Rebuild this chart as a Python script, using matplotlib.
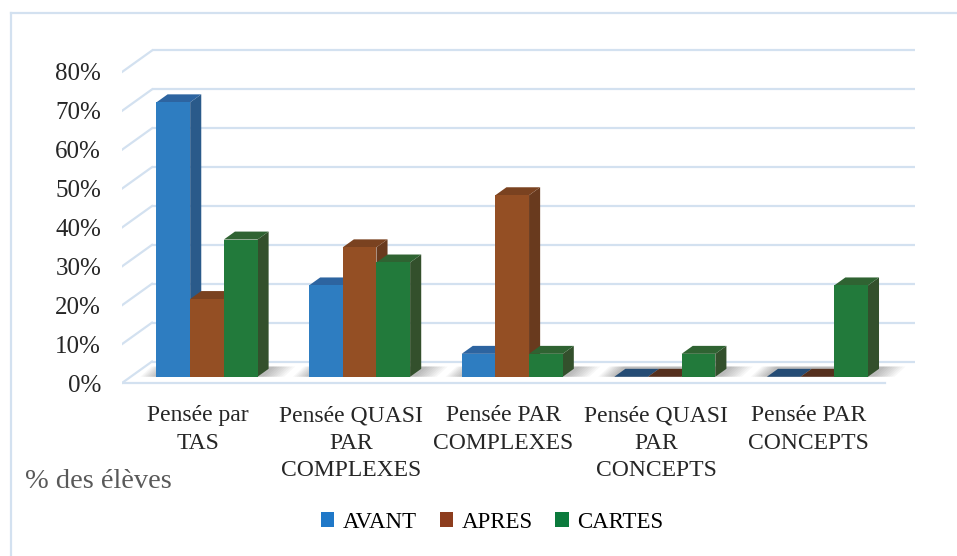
import numpy as np
import matplotlib.pyplot as plt
from matplotlib.patches import Polygon, Patch
from matplotlib.lines import Line2D

# Pourcentages d'élèves par type de pensée
categories = ['Pensée par\nTAS', 'Pensée QUASI\nPAR\nCOMPLEXES', 'Pensée PAR\nCOMPLEXES',
              'Pensée QUASI\nPAR\nCONCEPTS', 'Pensée PAR\nCONCEPTS']
series = ['AVANT', 'APRES', 'CARTES']
avant = [70.6, 23.5, 5.9, 0.0, 0.0]
apres = [20.0, 33.3, 46.7, 0.0, 0.0]
cartes = [35.3, 29.4, 5.9, 5.9, 23.5]
yticks = [0, 10, 20, 30, 40, 50, 60, 70, 80]

values = [avant, apres, cartes]

# couleurs: face avant, côté, dessus
faces = [('#2e7dc1', '#2a5a8a', '#2d64a0'),
         ('#944f24', '#693a1e', '#7a4220'),
         ('#227a3b', '#33502c', '#2f6332')]
flat = ['#254c75', '#55301e', '#2f6332']
legend_cols = ['#1f78c8', '#8d3d1e', '#0b7a3c']
grid_col = '#d3e1f0'

W, H = 957, 556
fig = plt.figure(figsize=(W / 100, H / 100), dpi=100)

# axe en unités "catégorie" / "pourcent", plan avant du graphique
px_x = 152.6          # pixels par catégorie
px_y = 3.8875         # pixels par pourcent
x0_px, y0_px = 122, 383
xlim = (0, 5.3)
ylim = (-1.5, 88)
ax = fig.add_axes([x0_px / W, (H - (y0_px - ylim[0] * px_y)) / H,
                   (xlim[1] - xlim[0]) * px_x / W, (ylim[1] - ylim[0]) * px_y / H])
ax.set_xlim(*xlim)
ax.set_ylim(*ylim)

# profondeur du graphique (décalage du mur du fond)
DX = 30 / px_x
DY = 21.5 / px_y

# quadrillage sur le mur du fond + diagonales à gauche
for v in yticks:
    ax.plot([DX, 5 + DX], [v + DY, v + DY], color=grid_col, lw=1.6, zorder=1,
            solid_capstyle='butt')
    ax.plot([0, DX], [v, v + DY], color=grid_col, lw=1.6, zorder=1)
# bord avant du sol
ax.plot([0, 5], [0, 0], color=grid_col, lw=1.6, zorder=1)

# barres 3D
w = 0.2207
a, b = 0.29, 0.66     # profondeur avant / arrière des barres
for i in range(len(categories)):
    # ombre douce sur le sol, plus marquée à droite du groupe
    gx0 = i + 0.5 - 1.5 * w + a * DX
    gx1 = gx0 + 3 * w
    for k in range(9):
        ext = 0.012 * k
        pts = [(gx0 - 0.01 - ext, a * DY), (gx1 + 0.04 + ext * 1.4, a * DY),
               (gx1 + 0.04 + ext * 1.4 + (b - a) * DX, b * DY + 0.6),
               (gx0 - 0.01 - ext + (b - a) * DX, b * DY + 0.6)]
        ax.add_patch(Polygon(pts, closed=True, facecolor='#000000', edgecolor='none',
                             alpha=0.03, zorder=2))
    for j in range(len(series)):
        v = values[j][i]
        x0 = i + 0.5 + (j - 1.5) * w + a * DX
        ya = a * DY
        ddx, ddy = (b - a) * DX, (b - a) * DY
        if v <= 0:
            top = [(x0, ya), (x0 + w, ya), (x0 + w + ddx, ya + ddy), (x0 + ddx, ya + ddy)]
            ax.add_patch(Polygon(top, closed=True, facecolor=flat[j], edgecolor='none', zorder=3))
            continue
        fc, sc, tc = faces[j]
        front = [(x0, ya), (x0 + w, ya), (x0 + w, ya + v), (x0, ya + v)]
        side = [(x0 + w, ya), (x0 + w + ddx, ya + ddy), (x0 + w + ddx, ya + ddy + v), (x0 + w, ya + v)]
        top = [(x0, ya + v), (x0 + w, ya + v), (x0 + w + ddx, ya + ddy + v), (x0 + ddx, ya + ddy + v)]
        ax.add_patch(Polygon(side, closed=True, facecolor=sc, edgecolor='none', zorder=3))
        ax.add_patch(Polygon(top, closed=True, facecolor=tc, edgecolor='none', zorder=3))
        ax.add_patch(Polygon(front, closed=True, facecolor=fc, edgecolor='none', zorder=3))

# axes et étiquettes
for s in ax.spines.values():
    s.set_visible(False)
ax.set_yticks(yticks)
ax.set_yticklabels([f'{t}%' for t in yticks], fontsize=18, family='Liberation Serif',
                   color='#262626')
ax.set_xticks(np.arange(len(categories)) + 0.5)
ax.set_xticklabels(categories, fontsize=17, family='Liberation Serif', color='#262626',
                   linespacing=1.38)
ax.tick_params(axis='both', length=0)
ax.tick_params(axis='y', pad=15)
ax.tick_params(axis='x', pad=12)

fig.text(25 / W, 1 - 481 / H, '% des élèves', fontsize=20.5, family='Liberation Serif',
         color='#595959', va='center', ha='left')

# légende
handles = [Patch(facecolor=c, edgecolor='none') for c in legend_cols]
fig.legend(handles, series, loc='center', bbox_to_anchor=(492 / W, 1 - 522 / H), ncol=3,
           frameon=False, prop={'family': 'Liberation Serif', 'size': 16.5},
           handlelength=0.6, handleheight=0.6, handletextpad=0.35, columnspacing=1.0)

# cadre du graphique (haut et gauche)
fig.add_artist(Line2D([10.5 / W, 1], [1 - 13 / H, 1 - 13 / H], color=grid_col, lw=1.6))
fig.add_artist(Line2D([10.5 / W, 10.5 / W], [0, 1 - 13 / H], color=grid_col, lw=1.6))

fig.savefig('out.png', dpi=100)
